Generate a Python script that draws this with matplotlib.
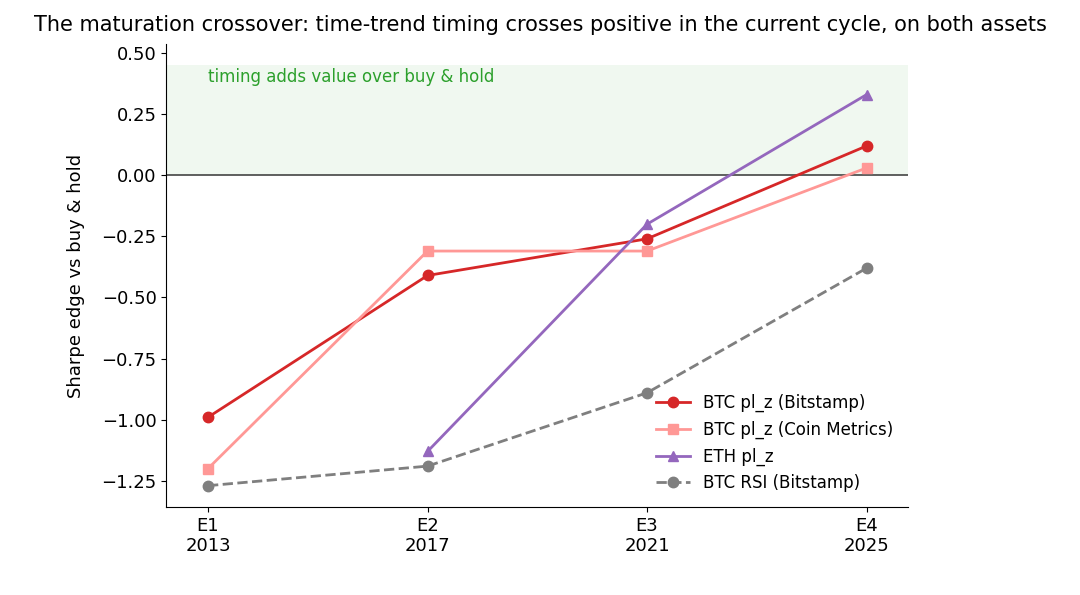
import matplotlib
matplotlib.use("Agg")
import matplotlib.pyplot as plt

epochs = ["E1\n2013", "E2\n2017", "E3\n2021", "E4\n2025"]
btc_bitstamp = [-0.99, -0.41, -0.26, 0.12]
btc_coinmetrics = [-1.20, -0.31, -0.31, 0.03]
eth = [None, -1.13, -0.20, 0.33]
btc_rsi = [-1.27, -1.19, -0.89, -0.38]

x = list(range(len(epochs)))

fig = plt.figure(figsize=(10.8, 5.95), dpi=100)
ax = fig.add_axes([0.154, 0.148, 0.687, 0.778])

# green band = timing beats buy & hold
ax.axhspan(0, 0.45, color="#2ca02c", alpha=0.07, lw=0)
ax.axhline(0, color="#444444", lw=1.2)
ax.text(0.0, 0.38, "timing adds value over buy & hold", color="#2ca02c", fontsize=12)

ax.plot(x, btc_bitstamp, color="#d62728", marker="o", lw=2, ms=7.5, label="BTC pl_z (Bitstamp)")
ax.plot(x, btc_coinmetrics, color="#ff9896", marker="s", lw=2, ms=7, label="BTC pl_z (Coin Metrics)")
ax.plot(x[1:], eth[1:], color="#9467bd", marker="^", lw=2, ms=7.5, label="ETH pl_z")
ax.plot(x, btc_rsi, color="#7f7f7f", marker="o", lw=2, ms=7.5, ls="--", label="BTC RSI (Bitstamp)")

ax.set_xticks(x)
ax.set_xticklabels(epochs, fontsize=13)
ax.set_xlim(-0.19, 3.19)
ax.set_ylim(-1.357, 0.537)
ax.set_yticks([-1.25, -1.0, -0.75, -0.5, -0.25, 0.0, 0.25, 0.5])
ax.tick_params(axis="y", labelsize=13)
ax.set_ylabel("Sharpe edge vs buy & hold", fontsize=13, labelpad=12)
ax.spines["top"].set_visible(False)
ax.spines["right"].set_visible(False)
ax.legend(loc="lower right", frameon=False, fontsize=12)

fig.suptitle("The maturation crossover: time-trend timing crosses positive in the current cycle, on both assets",
             fontsize=15, y=0.975)
fig.savefig("out.png", dpi=100)
